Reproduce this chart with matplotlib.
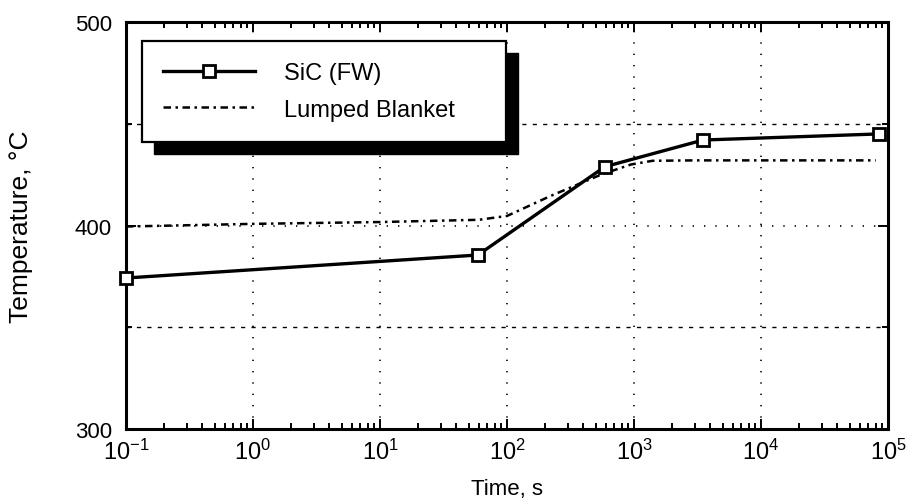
import matplotlib
matplotlib.use("Agg")
import matplotlib.pyplot as plt
from matplotlib.ticker import FixedLocator, LogLocator, NullFormatter
from matplotlib.patches import Rectangle

plt.rcParams['font.family'] = ['Liberation Sans', 'DejaVu Sans']
plt.rcParams['mathtext.fontset'] = 'custom'
plt.rcParams['mathtext.rm'] = 'Liberation Sans'
plt.rcParams['mathtext.it'] = 'Liberation Sans:italic'
plt.rcParams['mathtext.bf'] = 'Liberation Sans:bold'

# ---- data ----
sic_time = [0.1, 59, 590, 3500, 85000]
sic_temp = [374.2, 385.5, 428.9, 442.0, 445.0]

blanket_time = [0.1, 1, 10, 60, 100, 220, 550, 950, 1400, 3000, 10000, 80000]
blanket_temp = [399.5, 400.8, 401.7, 402.8, 404.7, 414.5, 425.0, 430.0, 431.8, 432.0, 432.0, 432.0]

series_labels = ["SiC (FW)", "Lumped Blanket"]
x_label = "Time, s"
y_label = "Temperature, \u00b0C"
y_major = [300, 400, 500]
y_minor = [350, 450]
x_decades = [0.1, 1, 10, 100, 1000, 10000, 100000]
x_ticklabels = [r"$10^{-1}$", r"$10^{0}$", r"$10^{1}$", r"$10^{2}$", r"$10^{3}$", r"$10^{4}$", r"$10^{5}$"]

fig = plt.figure(figsize=(9.10, 5.02), dpi=100)
ax = fig.add_axes([126/910, 1-430/502, (888-126)/910, (430-23)/502])

ax.plot(sic_time, sic_temp, color='black', lw=2.4, marker='s', ms=8,
        mfc='white', mec='black', mew=2.0, label=series_labels[0], zorder=3,
        clip_on=False)
ax.plot(blanket_time, blanket_temp, color='black', lw=1.8,
        linestyle=(0, (3.0, 1.8, 1.0, 1.8)), label=series_labels[1], zorder=2)

ax.set_xscale('log')
ax.set_xlim(0.1, 1e5)
ax.set_ylim(300, 500)

ax.set_xticks(x_decades)
ax.set_xticklabels(x_ticklabels)
ax.xaxis.set_minor_locator(LogLocator(base=10, subs=range(2, 10), numticks=20))
ax.xaxis.set_minor_formatter(NullFormatter())
ax.yaxis.set_major_locator(FixedLocator(y_major))
ax.yaxis.set_minor_locator(FixedLocator(y_minor))

ax.tick_params(which='both', direction='in', top=True, right=True, width=1.4)
ax.tick_params(which='major', length=7)
ax.tick_params(which='minor', length=4)
ax.tick_params(axis='y', which='major', labelsize=16, pad=10)
ax.tick_params(axis='x', which='major', labelsize=17, pad=7)

for s in ax.spines.values():
    s.set_linewidth(2.2)

ax.grid(True, which='major', axis='x', color='black', lw=1.2, linestyle=(0, (0.8, 6)))
ax.grid(True, which='major', axis='y', color='black', lw=1.2, linestyle=(0, (0.8, 6)))
ax.grid(True, which='minor', axis='y', color='black', lw=1.0, linestyle=(0, (3, 4.5)))
ax.set_axisbelow(True)

ax.set_xlabel(x_label, fontsize=16, labelpad=10)
ax.set_ylabel(y_label, fontsize=19, labelpad=30)

leg = ax.legend(loc='upper left', bbox_to_anchor=(0.021, 0.953, 0.478, 0.0), mode='expand',
                fontsize=17, frameon=True, fancybox=False, borderpad=0.9,
                labelspacing=0.6, handlelength=3.9, handletextpad=1.2,
                borderaxespad=0.0, framealpha=1.0)
leg.get_frame().set_edgecolor('black')
leg.get_frame().set_linewidth(1.6)
leg.get_frame().set_facecolor('white')
leg.set_zorder(6)

# black drop shadow offset down-right behind the legend box
fig.canvas.draw()
bb = leg.get_frame().get_window_extent(fig.canvas.get_renderer())
off = 12
shadow = Rectangle((bb.x0 + off, bb.y0 - off), bb.width, bb.height,
                   transform=None, facecolor='black', edgecolor='black', zorder=5.5)
ax.add_artist(shadow)

fig.savefig("out.png", dpi=100)
